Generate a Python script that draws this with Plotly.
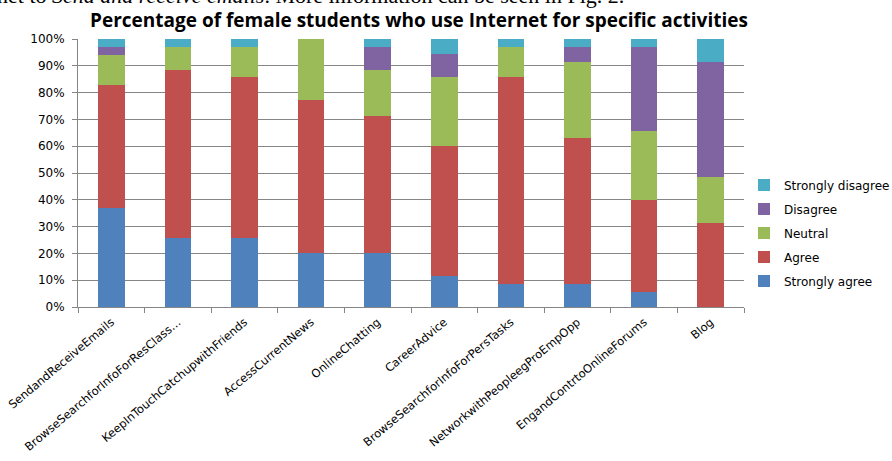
import plotly.graph_objects as go

# activity categories (x axis)
activities = [
    "SendandReceiveEmails",
    "BrowseSearchforInfoForResClass…",
    "KeepInTouchCatchupwithFriends",
    "AccessCurrentNews",
    "OnlineChatting",
    "CareerAdvice",
    "BrowseSearchforInfoForPersTasks",
    "NetworkwithPeopleegProEmpOpp",
    "EngandContrtoOnlineForums",
    "Blog",
]

# percentages
strongly_agree = [37.1, 25.7, 25.7, 20.0, 20.0, 11.4, 8.6, 8.6, 5.7, 0.0]
agree = [45.7, 62.9, 60.0, 57.1, 51.4, 48.6, 77.1, 54.3, 34.3, 31.4]
neutral = [11.4, 8.6, 11.4, 22.9, 17.1, 25.7, 11.4, 28.6, 25.7, 17.1]
disagree = [2.9, 0.0, 0.0, 0.0, 8.6, 8.6, 0.0, 5.7, 31.4, 42.9]
strongly_disagree = [2.9, 2.9, 2.9, 0.0, 2.9, 5.7, 2.9, 2.9, 2.9, 8.6]

y_ticks = [0, 10, 20, 30, 40, 50, 60, 70, 80, 90, 100]
y_tick_labels = ["0%", "10%", "20%", "30%", "40%", "50%",
                 "60%", "70%", "80%", "90%", "100%"]

series = [
    ("Strongly agree", strongly_agree, "#4F81BD"),
    ("Agree", agree, "#C0504D"),
    ("Neutral", neutral, "#9BBB59"),
    ("Disagree", disagree, "#8064A2"),
    ("Strongly disagree", strongly_disagree, "#4BACC6"),
]

small_font = dict(family="DejaVu Sans", size=11.5, color="#000000")

fig = go.Figure()
for i, (name, vals, col) in enumerate(series):
    fig.add_trace(go.Bar(
        x=activities, y=vals, name=name,
        marker=dict(color=col, line=dict(width=0)),
        legendgroup=name,
        legendrank=len(series) - i,  # legend lists top of stack first
    ))

fig.update_layout(
    barmode="stack",
    bargap=0.6,
    width=892, height=461,
    margin=dict(l=78, r=145, t=39, b=154),
    paper_bgcolor="white",
    plot_bgcolor="white",
    font=small_font,
    title=dict(
        text="<b>Percentage of female students who use Internet for specific activities</b>",
        font=dict(family="Open Sans", size=19, color="#000000"),
        x=419 / 892, xanchor="center",
        y=1 - 20 / 461, yanchor="middle", yref="container",
    ),
    showlegend=True,
    legend=dict(
        xref="container", yref="container",
        x=744 / 892, xanchor="left",
        y=1 - 233 / 461, yanchor="middle",
        traceorder="grouped",
        tracegroupgap=5,
        font=dict(family="DejaVu Sans", size=12, color="#000000"),
        itemwidth=30,
        bgcolor="rgba(0,0,0,0)",
    ),
    xaxis=dict(
        automargin=False,
        showline=True, linecolor="#868686", linewidth=1,
        ticks="outside", tickson="boundaries", ticklen=5, tickcolor="#868686",
        tickangle=-40, tickfont=small_font, ticklabelstandoff=3,
        showgrid=False,
    ),
    yaxis=dict(
        automargin=False,
        range=[0, 100],
        tickvals=y_ticks, ticktext=y_tick_labels,
        showline=True, linecolor="#868686", linewidth=1,
        ticks="outside", ticklen=5, tickcolor="#868686",
        showgrid=True, gridcolor="#868686", gridwidth=1,
        zeroline=False, ticklabelstandoff=5,
        tickfont=dict(family="DejaVu Sans", size=12, color="#000000"),
    ),
)

# line of paper text cropped at the top of the picture
fig.add_annotation(
    xref="paper", yref="paper",
    x=-0.125, y=1.109, xanchor="left", yanchor="bottom",
    text="net to <i>Send and receive emails</i>. More information can be seen in Fig. 2.",
    showarrow=False,
    font=dict(family="Liberation Serif", size=22, color="#000000"),
)

fig.write_html(
    "out.html",
    config={"displayModeBar": False},
    post_script="document.body.style.margin='0px';",
)
